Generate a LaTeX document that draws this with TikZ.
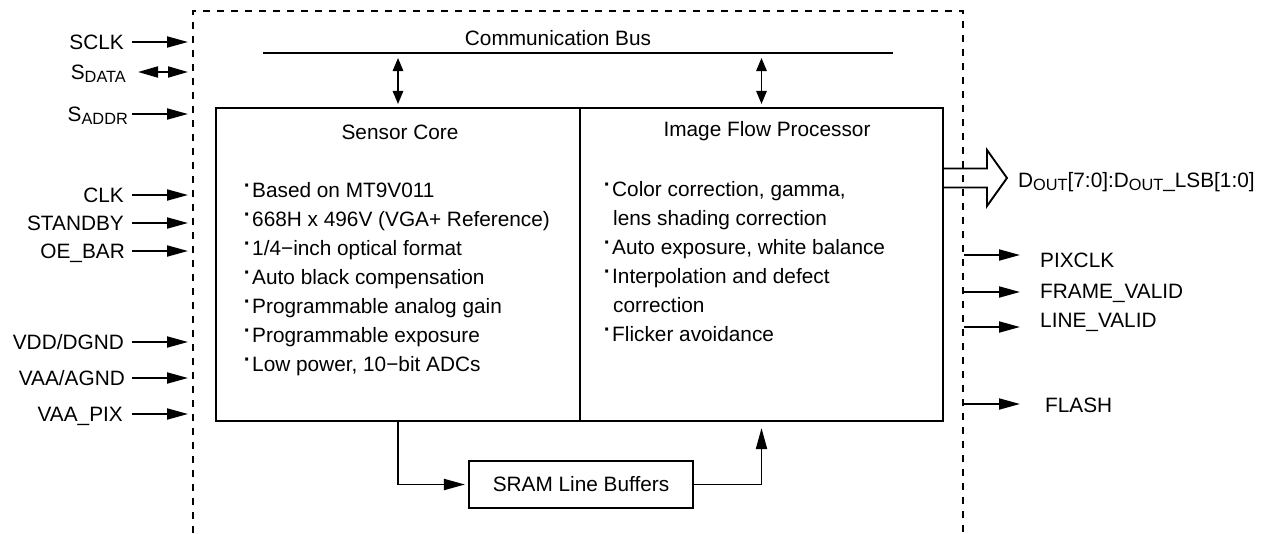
\documentclass[tikz,border=0pt]{standalone}
\usepackage{fontspec}
\setmainfont{Liberation Sans}
\usetikzlibrary{arrows.meta}
\newcommand\lowsub[1]{\raisebox{-3.5pt}{\fontsize{16.3}{16}\selectfont #1}}
\newcommand\bul{\llap{\raisebox{4.5pt}{\textbf{·}}\hspace{1.5pt}}}
\begin{document}
\begin{tikzpicture}[x=1pt,y=-1pt,
  every node/.style={font=\fontsize{20.8}{24}\selectfont},
  box/.style={draw, line width=2.1pt, inner sep=0pt},
  sig/.style={line width=1.9pt, -{Triangle[length=21pt,width=11pt]}},
  bsig/.style={line width=1.9pt, {Triangle[length=20pt,width=11pt]}-{Triangle[length=20pt,width=11pt]}},
  busarr/.style={line width=1.4pt, {Triangle[length=13pt,width=10.5pt]}-{Triangle[length=13pt,width=10.5pt]}},
  bound/.style={line width=1.9pt, dash pattern=on 7pt off 7pt},
  lbl/.style={inner sep=0pt, text height=14.9pt, text depth=0pt},
  itemtxt/.style={inner sep=0pt, anchor=base west},
]
\useasboundingbox (0,0) rectangle (1282,533);

% chip boundary
\draw[bound] (193,533) -- (193,11) -- (963,11) -- (963,533);

% communication bus
\coordinate (busL) at (263,53);
\coordinate (busR) at (893,53);
\draw[line width=2pt] (busL) -- (busR);
\node (bustxt) at (558,38) {Communication Bus};

% main blocks
\node[box, minimum width=364pt, minimum height=313pt] (sc) at (398,264.5) {};
\node[box, minimum width=363pt, minimum height=313pt] (ifp) at (761.5,264.5) {};
\node (sctitle) at (400,132) {Sensor Core};
\node (ifptitle) at (767,131) {Image Flow Processor};

\draw[busarr, shorten <=5pt, shorten >=3pt] (sc.north |- busL) -- (sc.north);
\draw[busarr, shorten <=5pt, shorten >=3pt] (ifp.north |- busL) -- (ifp.north);

% sensor core features
\node[itemtxt] (sc1) at (252,197) {\bul Based on MT9V011};
\node[itemtxt] (sc2) at (252,226) {\bul 668H x 496V (VGA+ Reference)};
\node[itemtxt] (sc3) at (252,255) {\bul 1/4−inch optical format};
\node[itemtxt] (sc4) at (252,284) {\bul Auto black compensation};
\node[itemtxt] (sc5) at (252,313) {\bul Programmable analog gain};
\node[itemtxt] (sc6) at (252,342) {\bul Programmable exposure};
\node[itemtxt] (sc7) at (252,371) {\bul Low power, 10−bit ADCs};

% image flow processor features
\node[itemtxt] (if1) at (612,196) {\bul Color correction, gamma,};
\node[itemtxt] (if2) at (613,225) {lens shading correction};
\node[itemtxt] (if3) at (612,254) {\bul Auto exposure, white balance};
\node[itemtxt] (if4) at (612,283) {\bul Interpolation and defect};
\node[itemtxt] (if5) at (613,312) {correction};
\node[itemtxt] (if6) at (612,341) {\bul Flicker avoidance};

% SRAM
\node[box, minimum width=224pt, minimum height=47pt] (sram) at (581,484.5) {SRAM Line Buffers};
\draw[sig, shorten >=3pt] (sc.south) |- (sram.west);
\draw[sig, shorten >=6pt] (sram.east) -| (ifp.south);

% left inputs
\node[lbl, anchor=east] (sclk) at (124,42) {SCLK};
\node[lbl, anchor=east] (sdata) at (126,72) {S\lowsub{DATA}};
\node[lbl, anchor=east] (saddr) at (128,114) {S\lowsub{ADDR}};
\node[lbl, anchor=east] (clk) at (124,195) {CLK};
\node[lbl, anchor=east] (stby) at (124,223) {STANDBY};
\node[lbl, anchor=east] (oebar) at (125,251) {OE\_BAR};
\node[lbl, anchor=east] (vdd) at (124,342) {VDD/DGND};
\node[lbl, anchor=east] (vaa) at (125,378) {VAA/AGND};
\node[lbl, anchor=east] (vaapix) at (123,414) {VAA\_PIX};

\foreach \n/\y in {sclk/42, sdata/72, saddr/114, clk/195, stby/223, oebar/251, vdd/342, vaa/378, vaapix/414}
  \coordinate (p-\n) at (188,\y);

\draw[sig, shorten <=8pt] (sclk.east) -- (p-sclk);
\draw[bsig, shorten <=12pt] (sdata.east |- p-sdata) -- (p-sdata);
\draw[sig, shorten <=4pt] (saddr.east |- p-saddr) -- (p-saddr);
\draw[sig, shorten <=8pt] (clk.east) -- (p-clk);
\draw[sig, shorten <=8pt] (stby.east) -- (p-stby);
\draw[sig, shorten <=7pt] (oebar.east) -- (p-oebar);
\draw[sig, shorten <=8pt] (vdd.east) -- (p-vdd);
\draw[sig, shorten <=7pt] (vaa.east) -- (p-vaa);
\draw[sig, shorten <=9pt] (vaapix.east) -- (p-vaapix);

% data output bus arrow
\coordinate (bo) at (ifp.east |- 0,178);
\coordinate (dtip) at (1007,178);
\draw[line width=1.9pt, line join=miter] (bo |- 0,168.5) -- (987,168.5) -- (987,150) -- (dtip) -- (987,206) -- (987,187.5) -- (bo |- 0,187.5);
\node[lbl, anchor=west] (dout) at (1018,180) {D\lowsub{OUT}[7:0]:D\lowsub{OUT}\_LSB[1:0]};

% right outputs
\node[lbl, anchor=west] (pixclk) at (1040,260) {PIXCLK};
\node[lbl, anchor=west] (fv) at (1040,291) {FRAME\_VALID};
\node[lbl, anchor=west] (lv) at (1040,320) {LINE\_VALID};
\node[lbl, anchor=west] (flash) at (1045,405) {FLASH};
\coordinate (q-pixclk) at (964,255);
\coordinate (q-fv) at (964,292);
\coordinate (q-lv) at (964,327);
\coordinate (q-flash) at (964,404);
\draw[sig] (q-pixclk) -- (q-pixclk -| 1020,0);
\draw[sig] (q-fv) -- (q-fv -| 1020,0);
\draw[sig] (q-lv) -- (q-lv -| 1020,0);
\draw[sig] (q-flash) -- (q-flash -| 1020,0);
\end{tikzpicture}
\end{document}
